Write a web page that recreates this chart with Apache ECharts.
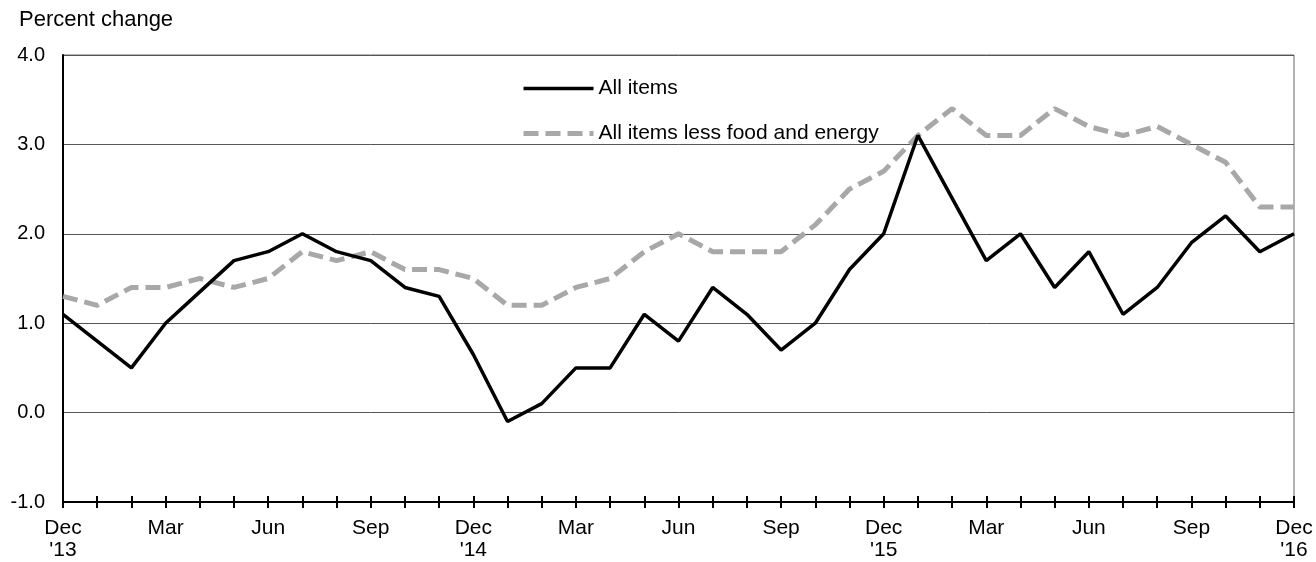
<!DOCTYPE html>
<html lang="en">
<head>
    <meta charset="UTF-8">
    <title>Percent change</title>
    <script src="https://cdnjs.cloudflare.com/ajax/libs/echarts/6.0.0/echarts.min.js"></script>
    <style>
        html, body { margin: 0; padding: 0; background: #fff; }
    </style>
</head>
<body>
    <div id="main" style="width: 1316px;height:562px;"></div>
    <script type="text/javascript">
        // months Dec '13 .. Dec '16
        const months = [
            "Dec\n'13", 'Jan', 'Feb', 'Mar', 'Apr', 'May', 'Jun', 'Jul', 'Aug', 'Sep', 'Oct', 'Nov',
            "Dec\n'14", 'Jan', 'Feb', 'Mar', 'Apr', 'May', 'Jun', 'Jul', 'Aug', 'Sep', 'Oct', 'Nov',
            "Dec\n'15", 'Jan', 'Feb', 'Mar', 'Apr', 'May', 'Jun', 'Jul', 'Aug', 'Sep', 'Oct', 'Nov',
            "Dec\n'16"
        ];
        const allItems = [
            1.1, 0.8, 0.5, 1.0, 1.35, 1.7, 1.8, 2.0, 1.8, 1.7, 1.4, 1.3,
            0.65, -0.1, 0.1, 0.5, 0.5, 1.1, 0.8, 1.4, 1.1, 0.7, 1.0, 1.6,
            2.0, 3.1, 2.4, 1.7, 2.0, 1.4, 1.8, 1.1, 1.4, 1.9, 2.2, 1.8,
            2.0
        ];
        const lessFoodEnergy = [
            1.3, 1.2, 1.4, 1.4, 1.5, 1.4, 1.5, 1.8, 1.7, 1.8, 1.6, 1.6,
            1.5, 1.2, 1.2, 1.4, 1.5, 1.8, 2.0, 1.8, 1.8, 1.8, 2.1, 2.5,
            2.7, 3.1, 3.4, 3.1, 3.1, 3.4, 3.2, 3.1, 3.2, 3.0, 2.8, 2.3,
            2.3
        ];
        const seriesNames = ['All items', 'All items less food and energy'];

        const font = "'Liberation Sans', Arial, sans-serif";
        const blackLine = { color: '#000', width: 3.5 };
        const grayLine = { color: '#a8a8a8', width: 5, type: [15, 7] };
        const chart = echarts.init(document.getElementById('main'));

        const option = {
            animation: false,
            backgroundColor: '#fff',
            textStyle: { fontFamily: font },
            title: {
                text: 'Percent change',
                left: 19,
                top: 9,
                padding: 0,
                textStyle: { fontSize: 22, fontWeight: 'normal', color: '#000', fontFamily: font }
            },
            legend: {
                data: [
                    { name: seriesNames[0], lineStyle: blackLine },
                    { name: seriesNames[1], lineStyle: grayLine }
                ],
                orient: 'vertical',
                left: 521,
                top: 78,
                padding: 0,
                itemWidth: 70,
                itemHeight: 20,
                itemGap: 24,
                itemStyle: { opacity: 0 },
                textStyle: { fontSize: 21, color: '#000', fontFamily: font }
            },
            grid: {
                left: 63,
                right: 22,
                top: 55,
                bottom: 60,
                show: true,
                borderColor: '#666',
                borderWidth: 1
            },
            xAxis: [
                {
                    type: 'category',
                    data: months,
                    boundaryGap: false,
                    axisLine: { onZero: false, lineStyle: { color: '#000', width: 2 } },
                    axisTick: { interval: 0, length: 6, lineStyle: { color: '#000', width: 2 } },
                    axisLabel: {
                        interval: 2,
                        margin: 15,
                        fontSize: 21,
                        lineHeight: 22,
                        color: '#000',
                        fontFamily: font
                    },
                    splitLine: { show: false }
                },
                {
                    // upward half of the crossing ticks
                    type: 'category',
                    data: months,
                    boundaryGap: false,
                    position: 'bottom',
                    axisLine: { show: false, onZero: false },
                    axisTick: { interval: 0, inside: true, length: 6, lineStyle: { color: '#000', width: 2 } },
                    axisLabel: { show: false },
                    splitLine: { show: false }
                }
            ],
            yAxis: {
                type: 'value',
                min: -1,
                max: 4,
                interval: 1,
                axisLine: { show: true, lineStyle: { color: '#000', width: 2 } },
                axisTick: { show: false },
                axisLabel: {
                    margin: 18,
                    fontSize: 20,
                    color: '#000',
                    fontFamily: font,
                    formatter: v => v.toFixed(1)
                },
                splitLine: { show: true, lineStyle: { color: '#555', width: 1 } }
            },
            series: [
                {
                    name: seriesNames[1],
                    type: 'line',
                    data: lessFoodEnergy,
                    symbol: 'none',
                    lineStyle: grayLine,
                    itemStyle: { color: '#a8a8a8' }
                },
                {
                    name: seriesNames[0],
                    type: 'line',
                    data: allItems,
                    symbol: 'none',
                    lineStyle: blackLine,
                    itemStyle: { color: '#000' }
                }
            ]
        };
        chart.setOption(option);
    </script>
</body>
</html>
